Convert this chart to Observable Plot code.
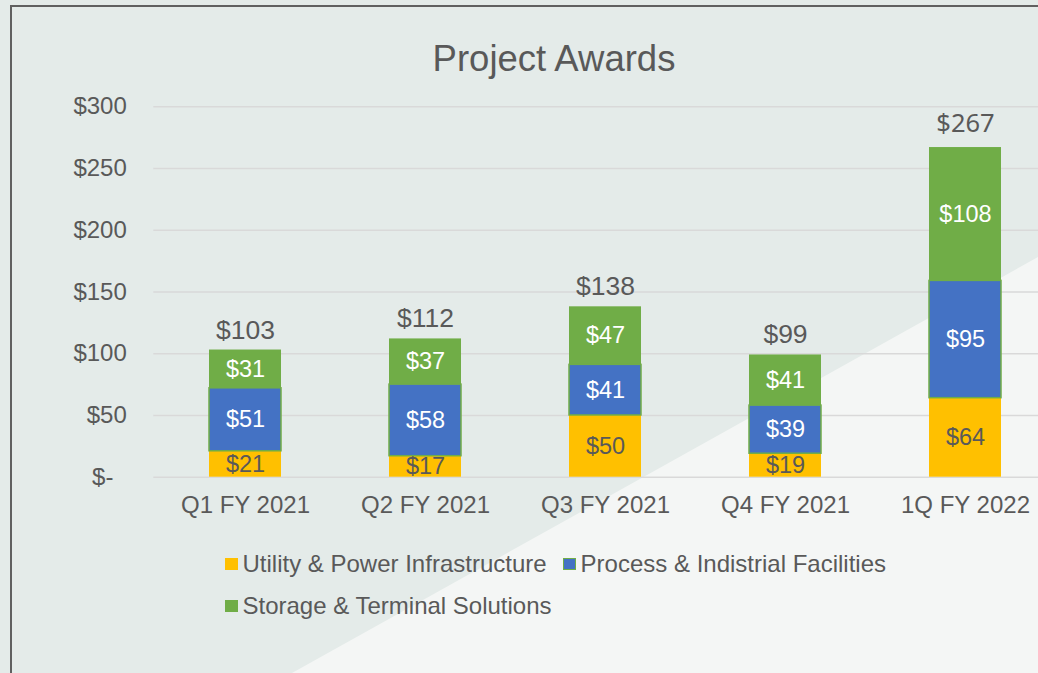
<!DOCTYPE html>
<html>
<head>
<meta charset="utf-8">
<script src="https://cdn.jsdelivr.net/npm/d3@7"></script>
<script src="https://cdn.jsdelivr.net/npm/@observablehq/plot@0.6"></script>
<style>
  html, body { margin: 0; padding: 0; background: #e4ebe9; overflow: hidden; }
  #wrap { position: relative; width: 1038px; height: 673px; overflow: hidden; background: #e4ebe9; font-family: "Liberation Sans", Arial, sans-serif; color: #595959; }
  #light { position: absolute; left: 0; top: 0; width: 1038px; height: 673px; background: #f4f6f5;
           clip-path: polygon(292px 673px, 1038px 257px, 1038px 673px); }
  #frame { position: absolute; left: 10px; top: 5px; width: 1100px; height: 700px; border-left: 2.5px solid #606060; border-top: 2.5px solid #606060; box-sizing: border-box; }
  #title { position: absolute; left: 0; width: 1108px; top: 41px; text-align: center; font-size: 36.5px; line-height: 1; white-space: nowrap; }
  #chart { position: absolute; left: 0; top: 0; }
  #legend { position: absolute; left: 224.5px; top: 552px; width: 700px; display: flex; flex-wrap: wrap; column-gap: 16px; row-gap: 18px; font-size: 24px; line-height: 1; }
  .item { display: flex; align-items: center; white-space: nowrap; }
  .sw { width: 13px; height: 12px; margin-right: 5px; box-sizing: border-box; }
</style>
</head>
<body>
<div id="wrap">
  <div id="light"></div>
  <div id="frame"></div>
  <div id="title">Project Awards</div>
  <div id="chart"></div>
  <div id="legend"></div>
</div>
<script>
const quarters = ["Q1 FY 2021", "Q2 FY 2021", "Q3 FY 2021", "Q4 FY 2021", "1Q FY 2022"];
const utility = [21, 17, 50, 19, 64];
const processInd = [51, 58, 41, 39, 95];
const storage = [31, 37, 47, 41, 108];
const totals = [103, 112, 138, 99, 267];
const seriesNames = ["Utility & Power Infrastructure", "Process & Indistrial Facilities", "Storage & Terminal Solutions"];
const colors = ["#FFC000", "#4472C4", "#70AD47"];
const yTicks = [0, 50, 100, 150, 200, 250, 300];

const seriesValues = [utility, processInd, storage];
const table = seriesNames.flatMap((s, si) =>
  quarters.map((q, qi) => ({quarter: q, series: s, value: seriesValues[si][qi]})));
const totalRows = quarters.map((q, i) => ({quarter: q, total: totals[i]}));

const fmt = v => "$" + v;
const stackOpts = extra => Plot.stackY({x: "quarter", y: "value", z: "series", ...extra});

const chart = Plot.plot({
  width: 1056.5,
  height: 527,
  marginLeft: 153.3,
  marginRight: 0,
  marginTop: 106.3,
  marginBottom: 50.3,
  style: {background: "transparent", maxWidth: "none", fontFamily: "'Liberation Sans', Arial, sans-serif", fontSize: "24px", color: "#595959", overflow: "visible"},
  x: {domain: quarters, paddingInner: 0.6, paddingOuter: 0.3, tickSize: 0, tickPadding: 19, label: null},
  y: {domain: [0, 300], ticks: yTicks, tickFormat: d => d === 0 ? "$-  " : "$" + d, tickSize: 0, tickPadding: 27, label: null},
  color: {domain: seriesNames, range: colors},
  marks: [
    Plot.ruleY(yTicks, {stroke: "#d9d9d9", strokeWidth: 1.5}),
    Plot.barY(table, stackOpts({fill: "series"})),
    Plot.barY(table, Plot.filter(d => d.series === seriesNames[1],
      stackOpts({fill: "none", stroke: "#70AD47", strokeWidth: 1.5}))),
    Plot.text(table, Plot.filter(d => d.series === seriesNames[0],
      stackOpts({text: d => fmt(d.value), fill: "#595959", fontSize: 23.5, fontFamily: "'Liberation Sans', Arial, sans-serif"}))),
    Plot.text(table, Plot.filter(d => d.series !== seriesNames[0],
      stackOpts({text: d => fmt(d.value), fill: "white", fontSize: 23.5, fontFamily: "'Liberation Sans', Arial, sans-serif"}))),
    Plot.text(totalRows, Plot.filter(d => d.quarter !== quarters[4], {
      x: "quarter", y: "total", text: d => fmt(d.total), dy: -20,
      fill: "#595959", fontSize: 26.5, fontFamily: "'Liberation Sans', Arial, sans-serif"})),
    Plot.text(totalRows, Plot.filter(d => d.quarter === quarters[4], {
      x: "quarter", y: "total", text: d => fmt(d.total), dy: -24,
      fill: "#595959", fontSize: 25.5, fontFamily: "'Noto Sans', sans-serif"}))
  ]
});
document.getElementById("chart").appendChild(chart);

const legend = document.getElementById("legend");
seriesNames.forEach((s, i) => {
  const item = document.createElement("div");
  item.className = "item";
  const sw = document.createElement("span");
  sw.className = "sw";
  sw.style.background = colors[i];
  if (i === 1) sw.style.border = "1.5px solid #70AD47";
  const label = document.createElement("span");
  label.textContent = s;
  item.appendChild(sw);
  item.appendChild(label);
  legend.appendChild(item);
});
</script>
</body>
</html>
